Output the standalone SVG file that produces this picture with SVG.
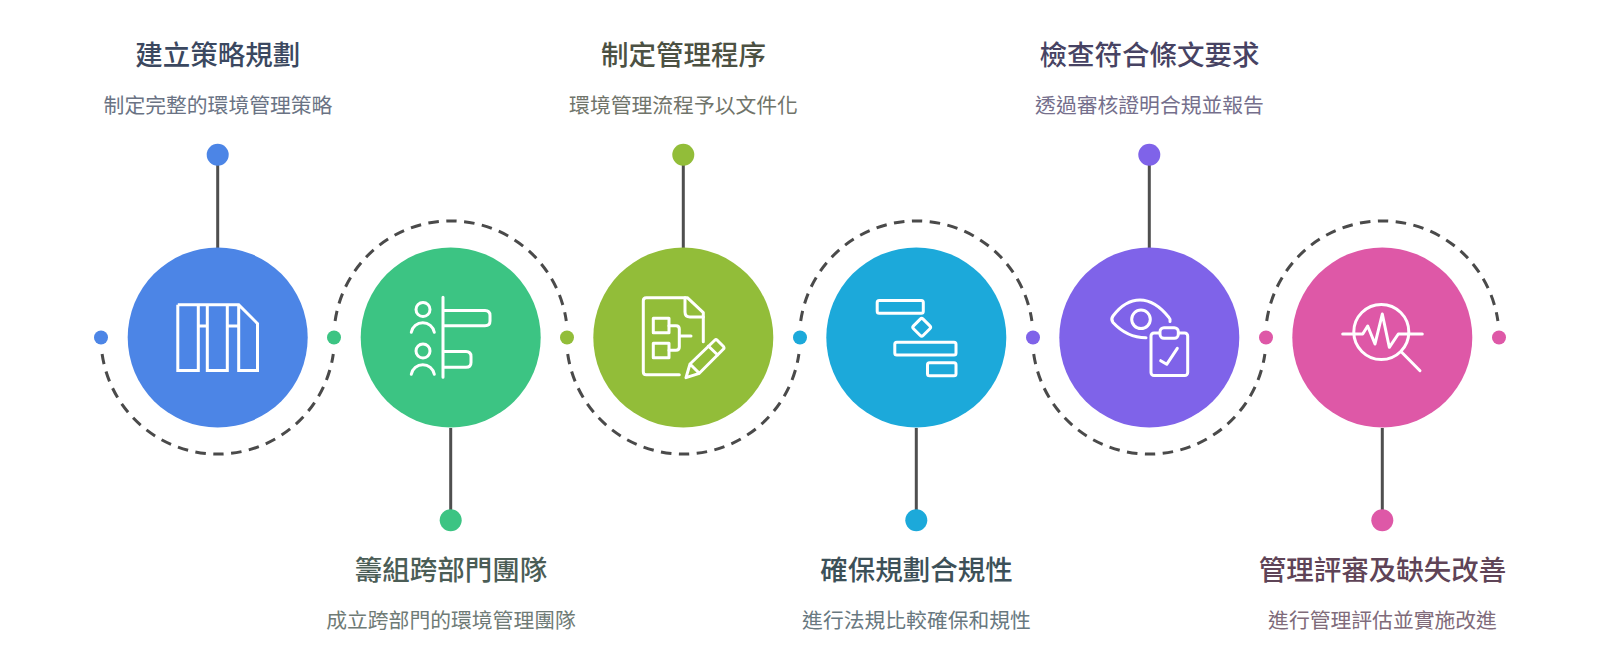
<svg xmlns="http://www.w3.org/2000/svg" width="1600" height="661" viewBox="0 0 1600 661">
<style>
text{font-family:"Noto Sans CJK TC","Noto Sans CJK SC",sans-serif;text-anchor:middle}
.t{font-size:27.5px;font-weight:500}
.d{font-size:20.8px;font-weight:400}
.i{fill:none;stroke:#fff;stroke-width:3;stroke-linecap:round;stroke-linejoin:round}
.arc{fill:none;stroke:#4a4a4a;stroke-width:3;stroke-dasharray:10.5 7.5}
.stem{stroke:#4f4f4f;stroke-width:3}
</style>
<rect width="1600" height="661" fill="#fff"/>
<g id="connectors">
<path class="arc" d="M102.1 354A116.8 116.8 0 0 0 333.3 354"/>
<path class="arc" d="M335.1 321A116.8 116.8 0 0 1 566.3 321"/>
<path class="arc" d="M567.7 354A116.8 116.8 0 0 0 798.9 354"/>
<path class="arc" d="M800.7 321A116.8 116.8 0 0 1 1031.9 321"/>
<path class="arc" d="M1033.7 354A116.8 116.8 0 0 0 1264.9 354"/>
<path class="arc" d="M1266.7 321A116.8 116.8 0 0 1 1497.9 321"/>
<path class="stem" d="M217.7 155V248M450.7 428V520M683.3 155V248M916.3 428V520M1149.3 155V248M1382.3 428V520"/>
</g>
<g id="node1">
<circle cx="217.7" cy="337.5" r="90" fill="#4c85e6"/>
<circle cx="217.7" cy="154.7" r="11" fill="#4c85e6"/>
<circle cx="101" cy="337.5" r="7" fill="#4c85e6"/>
<path class="i" style="stroke-linecap:butt;stroke-linejoin:miter" d="M177.8 304.8H238.7L257.5 323.5V370.5H238.7V304.8M177.8 304.8V370.5H198.3V304.8M207.3 304.8V370.5H227.3V304.8M198.3 326H207.3M227.3 326H238.7"/>
<text class="t" x="217.7" y="65" fill="#3b4860">建立策略規劃</text>
<text class="d" x="218" y="112.5" fill="#6a7384">制定完整的環境管理策略</text>
</g>
<g id="node2">
<circle cx="450.7" cy="337.5" r="90" fill="#3cc483"/>
<circle cx="450.7" cy="520.3" r="11" fill="#3cc483"/>
<circle cx="334" cy="337.5" r="7" fill="#3cc483"/>
<g class="i">
<circle cx="423" cy="309.5" r="7"/>
<path d="M411.3 332.3A11.7 11.7 0 0 1 434.3 332.3"/>
<circle cx="423" cy="351" r="7"/>
<path d="M411.3 374.3A11.7 11.7 0 0 1 434.3 374.3"/>
<path d="M443 297.3V377.3M443 310.5H485Q490 310.5 490 315.5V321Q490 325.7 485 325.7H443M443 351.5H466Q471 351.5 471 356.5V362.5Q471 367.3 466 367.3H443"/>
</g>
<text class="t" x="451" y="580" fill="#4b5d56">籌組跨部門團隊</text>
<text class="d" x="451" y="628" fill="#6f7b76">成立跨部門的環境管理團隊</text>
</g>
<g id="node3">
<circle cx="683.3" cy="337.5" r="90" fill="#92bd39"/>
<circle cx="683.3" cy="154.7" r="11" fill="#92bd39"/>
<circle cx="567" cy="337.5" r="7" fill="#92bd39"/>
<g class="i">
<path d="M679.3 374.7H646.3Q643.3 374.7 643.3 371.7V300.7Q643.3 297.7 646.3 297.7H687.3L703.3 312.7V341.7"/>
<path d="M685 297.7V312Q685 317 690 317H703.3"/>
<rect x="653.3" y="318.3" width="15.7" height="14.4"/>
<rect x="653.3" y="343.3" width="15.7" height="14.4"/>
<path d="M669 325.7H676Q679.3 325.7 679.3 329V347Q679.3 350.3 676 350.3H669M679.3 336H691"/>
<path d="M686 377.7L690 364L715 340Q716 339 717 340L723.5 346.5Q724.5 348 723.5 349L699.3 373.3ZM690 364L699.3 373.3M708.3 346L717.7 355"/>
</g>
<text class="t" x="683.5" y="65" fill="#4c5143">制定管理程序</text>
<text class="d" x="683.5" y="112.5" fill="#70746a">環境管理流程予以文件化</text>
</g>
<g id="node4">
<circle cx="916.3" cy="337.5" r="90" fill="#1ca9da"/>
<circle cx="916.3" cy="520.3" r="11" fill="#1ca9da"/>
<circle cx="800" cy="337.5" r="7" fill="#1ca9da"/>
<g class="i">
<rect x="877.2" y="300.5" width="46.1" height="12.8" rx="2"/>
<rect x="914.9" y="320.5" width="13.6" height="13.6" rx="2" transform="rotate(45 921.7 327.3)"/>
<rect x="894.8" y="342.2" width="61.2" height="12.8" rx="2"/>
<rect x="927.5" y="362.8" width="28.5" height="12.9" rx="2"/>
</g>
<text class="t" x="916.5" y="580" fill="#3c5058">確保規劃合規性</text>
<text class="d" x="916.5" y="628" fill="#687880">進行法規比較確保和規性</text>
</g>
<g id="node5">
<circle cx="1149.3" cy="337.5" r="90" fill="#7f63e9"/>
<circle cx="1149.3" cy="154.7" r="11" fill="#7f63e9"/>
<circle cx="1033" cy="337.5" r="7" fill="#7f63e9"/>
<g class="i">
<path d="M1170 321.5Q1170.5 319 1169 317.5Q1155 300 1140 300Q1125 300 1113 316Q1110.5 319.3 1113 322.5Q1127 337.7 1146 337.7"/>
<circle cx="1141" cy="319.3" r="9.3"/>
<rect x="1151" y="333" width="36.7" height="42.5" rx="3"/>
<rect x="1160" y="327.7" width="18.3" height="10.6" rx="4" fill="#7f63e9"/>
<path d="M1160.7 360.7L1166.7 364.3L1177.3 348.3"/>
</g>
<text class="t" x="1149.5" y="65" fill="#474363">檢查符合條文要求</text>
<text class="d" x="1149.5" y="112.5" fill="#756f8c">透過審核證明合規並報告</text>
</g>
<g id="node6">
<circle cx="1382.3" cy="337.5" r="90" fill="#de58a7"/>
<circle cx="1382.3" cy="520.3" r="11" fill="#de58a7"/>
<circle cx="1266" cy="337.5" r="7" fill="#de58a7"/>
<circle cx="1499" cy="337.5" r="7" fill="#de58a7"/>
<g class="i">
<circle cx="1381.3" cy="332" r="27.5"/>
<path d="M1342.7 334H1362.7L1367.7 326L1375 344L1382.3 314L1389.3 347.3L1398.3 334H1422.3"/>
<path d="M1401.7 352.3L1420 370.7"/>
</g>
<text class="t" x="1382.5" y="580" fill="#5f4457">管理評審及缺失改善</text>
<text class="d" x="1382.5" y="628" fill="#806b7a">進行管理評估並實施改進</text>
</g>
</svg>
